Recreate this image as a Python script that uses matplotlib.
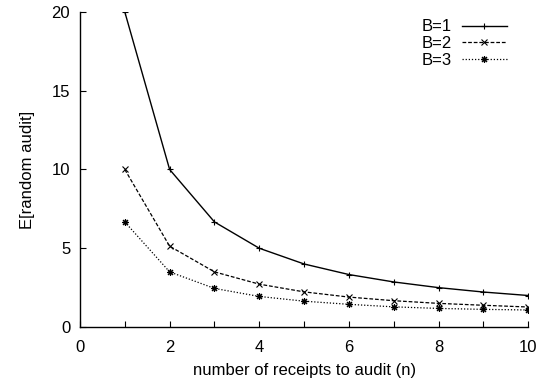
import numpy as np
import matplotlib
matplotlib.use("Agg")
import matplotlib.pyplot as plt

plt.rcParams['font.family'] = ['Liberation Sans', 'DejaVu Sans']

# data
n = [1, 2, 3, 4, 5, 6, 7, 8, 9, 10]
b1 = [20.0, 10.0, 6.67, 5.0, 4.0, 3.33, 2.86, 2.5, 2.22, 2.0]
b2 = [10.0, 5.13, 3.5, 2.72, 2.23, 1.9, 1.67, 1.5, 1.38, 1.27]
b3 = [6.67, 3.5, 2.45, 1.94, 1.64, 1.44, 1.28, 1.18, 1.12, 1.08]
labels = ["B=1", "B=2", "B=3"]

fig = plt.figure(figsize=(5.44, 3.81), dpi=100)
ax = fig.add_axes([0.147, 0.1417, 0.824, 0.827])

ax.plot(n, b1, color='black', lw=1.0, marker='+', ms=5, mew=0.8, label=labels[0])
ax.plot(n, b2, color='black', lw=0.9, ls=(0, (3, 1.5)), marker='x', ms=4, mew=0.8, label=labels[1])
ax.plot(n, b3, color='black', lw=0.9, ls=(0, (1, 1.5)), marker=(8, 2, 0), ms=5, mew=0.8, label=labels[2])

ax.set_xlim(0, 10)
ax.set_ylim(0, 20)
ax.set_xticks([0, 2, 4, 6, 8, 10])
ax.set_xticks(n, minor=True)
ax.set_yticks([0, 5, 10, 15, 20])
ax.tick_params(which='both', direction='in', length=4, labelsize=12, width=0.8)
ax.tick_params(axis='x', pad=9)
ax.tick_params(axis='y', pad=7)
for s in ['top', 'right']:
    ax.spines[s].set_visible(False)
for s in ['left', 'bottom']:
    ax.spines[s].set_linewidth(1.0)

ax.set_xlabel("number of receipts to audit (n)", fontsize=12, labelpad=6)
ax.set_ylabel("E[random audit]", fontsize=12, labelpad=12)

ax.legend(loc='upper right', frameon=False, markerfirst=False, fontsize=12,
          handlelength=2.7, handletextpad=0.6, labelspacing=0.1,
          bbox_to_anchor=(0.985, 1.024))

fig.savefig("out.png", dpi=100)
